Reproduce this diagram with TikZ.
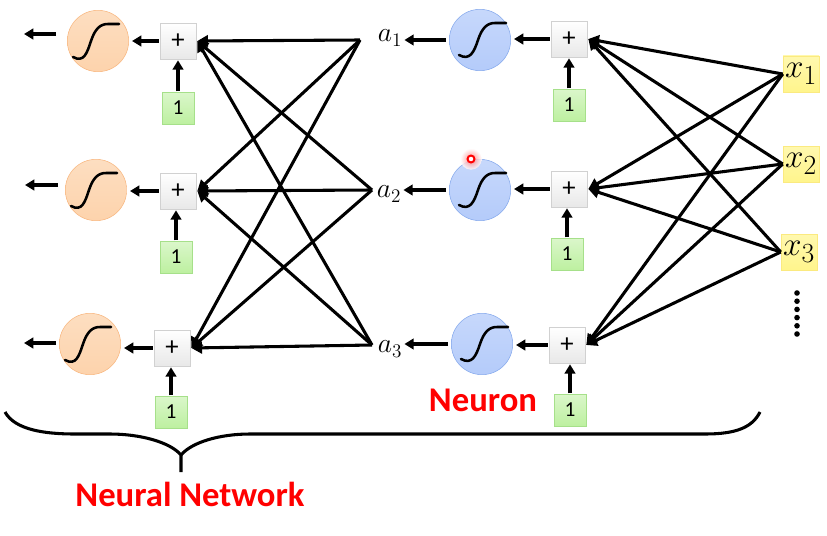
\documentclass[tikz,border=0pt]{standalone}
\usepackage{fontspec}
\setmainfont{Carlito}
\usetikzlibrary{positioning, arrows.meta, calc}
\definecolor{orangefill}{HTML}{FDD3AC}
\definecolor{orangeline}{HTML}{F8B67E}
\definecolor{bluefill}{HTML}{B4CBFA}
\definecolor{blueline}{HTML}{84A8EC}
\definecolor{greenfill}{HTML}{BDF0A0}
\definecolor{greenline}{HTML}{A6E08A}
\definecolor{yellowfill}{HTML}{FFF58C}
\definecolor{yellowline}{HTML}{FBEA80}
\definecolor{titlered}{HTML}{FF0000}

\tikzset{
    sigmoid/.style={circle, minimum size=46pt, inner sep=0pt, outer sep=2.5pt},
    orangeunit/.style={sigmoid, draw=orangeline, top color=orangefill!75!white, bottom color=orangefill},
    blueunit/.style={sigmoid, draw=blueline, top color=bluefill!75!white, bottom color=bluefill},
    scurve/.style={line width=1.9pt, line cap=round},
    sumbox/.style={draw=black!18, top color=white, bottom color=black!9, minimum size=27pt,
        inner sep=0pt, outer sep=1pt, font=\fontsize{20}{20}\selectfont},
    biasbox/.style={draw=greenline, top color=greenfill!55!white, bottom color=greenfill, minimum size=24pt,
        inner sep=0pt, outer sep=0.5pt, font=\fontsize{16}{16}\selectfont},
    inputbox/.style={draw=yellowline, top color=yellowfill!70!white, bottom color=yellowfill,
        minimum size=27pt, inner sep=0pt, font=\Huge},
    label/.style={inner sep=1.5pt, font=\huge},
    title/.style={text=titlered, font=\fontsize{26}{26}\selectfont\bfseries},
    wire/.style={line width=2.3pt, -{Triangle[length=8pt, width=8.5pt]}},
    feed/.style={line width=2.3pt, -{Triangle[length=7pt, width=8pt]}},
}

\begin{document}
\begin{tikzpicture}[x=0.75pt, y=-0.75pt]
    \useasboundingbox (0,0) rectangle (827,535);

    % output layer
    \node[orangeunit] (l1) at (98,41) {};
    \node[orangeunit] (l2) at (96,190) {};
    \node[orangeunit] (l3) at (90,344) {};
    \node[sumbox] (lp1) at (178,41) {+};
    \node[sumbox] (lp2) at (178,191) {+};
    \node[sumbox] (lp3) at (172,348) {+};
    \node[biasbox] (lb1) at (178,108) {1};
    \node[biasbox] (lb2) at (176,257) {1};
    \node[biasbox] (lb3) at (171,412) {1};
    \coordinate (ot1) at (56,34);
    \coordinate (oh1) at (24,34);
    \coordinate (ot2) at (58,185);
    \coordinate (oh2) at (25,185);
    \coordinate (ot3) at (56,343);
    \coordinate (oh3) at (24,343);

    % hidden layer
    \node[label] (a1) at (390,38) {$a_1$};
    \node[label] (a2) at (389,194) {$a_2$};
    \node[label] (a3) at (390,349) {$a_3$};
    \coordinate (j1) at (360,40);
    \coordinate (j2) at (372,190);
    \coordinate (j3) at (372,345);
    \node[blueunit] (h1) at (480,40) {};
    \node[blueunit] (h2) at (480,190) {};
    \node[blueunit] (h3) at (482,344) {};
    \node[sumbox] (hp1) at (569,39) {+};
    \node[sumbox] (hp2) at (569,189) {+};
    \node[sumbox] (hp3) at (567,345) {+};
    \node[biasbox] (hb1) at (569,105) {1};
    \node[biasbox] (hb2) at (567,254) {1};
    \node[biasbox] (hb3) at (570,410) {1};

    % inputs
    \node[inputbox] (x1) at (801,74) {$x_1$};
    \node[inputbox] (x2) at (801,164) {$x_2$};
    \node[inputbox] (x3) at (799,252) {$x_3$};

    % sigmoid curves inside the units
    \foreach \i in {1,2,3} {
        \draw[scurve, shift={(l\i)}] (-25,16) .. controls (-14,22) and (-11,12) .. (-7,0)
            .. controls (-3,-12) and (2,-17) .. (10,-17) -- (21,-17);
        \draw[scurve, shift={(h\i)}] (-21,15) .. controls (-10,21) and (-6,12) .. (-2,0)
            .. controls (2,-12) and (7,-17) .. (15,-17) -- (26,-17);
    }

    % short arrows along each row
    \foreach \i in {1,2,3} {
        \draw[feed] (ot\i) -- (oh\i);
        \draw[feed] (lp\i) -- (l\i.east |- lp\i);
        \draw[feed] (lb\i) -- (lb\i |- lp\i.south);
        \draw[feed] (h\i) -- (a\i.east |- h\i);
        \draw[feed] (hp\i) -- (h\i.east |- hp\i);
        \draw[feed] (hb\i) -- (hb\i |- hp\i.south);
    }

    % fully connected layers
    \foreach \i in {1,2,3} {
        \foreach \j in {1,2,3} {
            \draw[wire] (j\j) -- (lp\i.east);
            \draw[wire] (x\j.west) -- (hp\i.east);
        }
    }

    % dots below the inputs
    \foreach \k in {0,1,2,3,4,5} {
        \fill ($(797,293)+(0,8.2*\k)$) circle (2.1pt);
    }

    % curly brace
    \coordinate (bl) at (5,412);
    \coordinate (bm) at (181,455);
    \coordinate (br) at (760,412);
    \coordinate (bs) at (181,472);
    \draw[line width=2.3pt] (bl) .. controls (15,430) and (45,434) .. (75,434)
        -- (110,434) .. controls (140,434) and (170,442) .. (bm) -- (bs);
    \draw[line width=2.3pt] (bm) .. controls (192,442) and (220,434) .. (250,434)
        -- (705,434) .. controls (735,434) and (752,428) .. (br);

    % marker on the middle unit
    \shade[inner color=red!55!white, outer color=white, opacity=0.8] (471,159) circle (8pt);
    \draw[titlered, line width=1.5pt, fill=white] (471,159) circle (2.6pt);

    \node[title] (neuron) at (483,400) {Neuron};
    \node[title] (network) at (190,494) {Neural Network};
\end{tikzpicture}
\end{document}
